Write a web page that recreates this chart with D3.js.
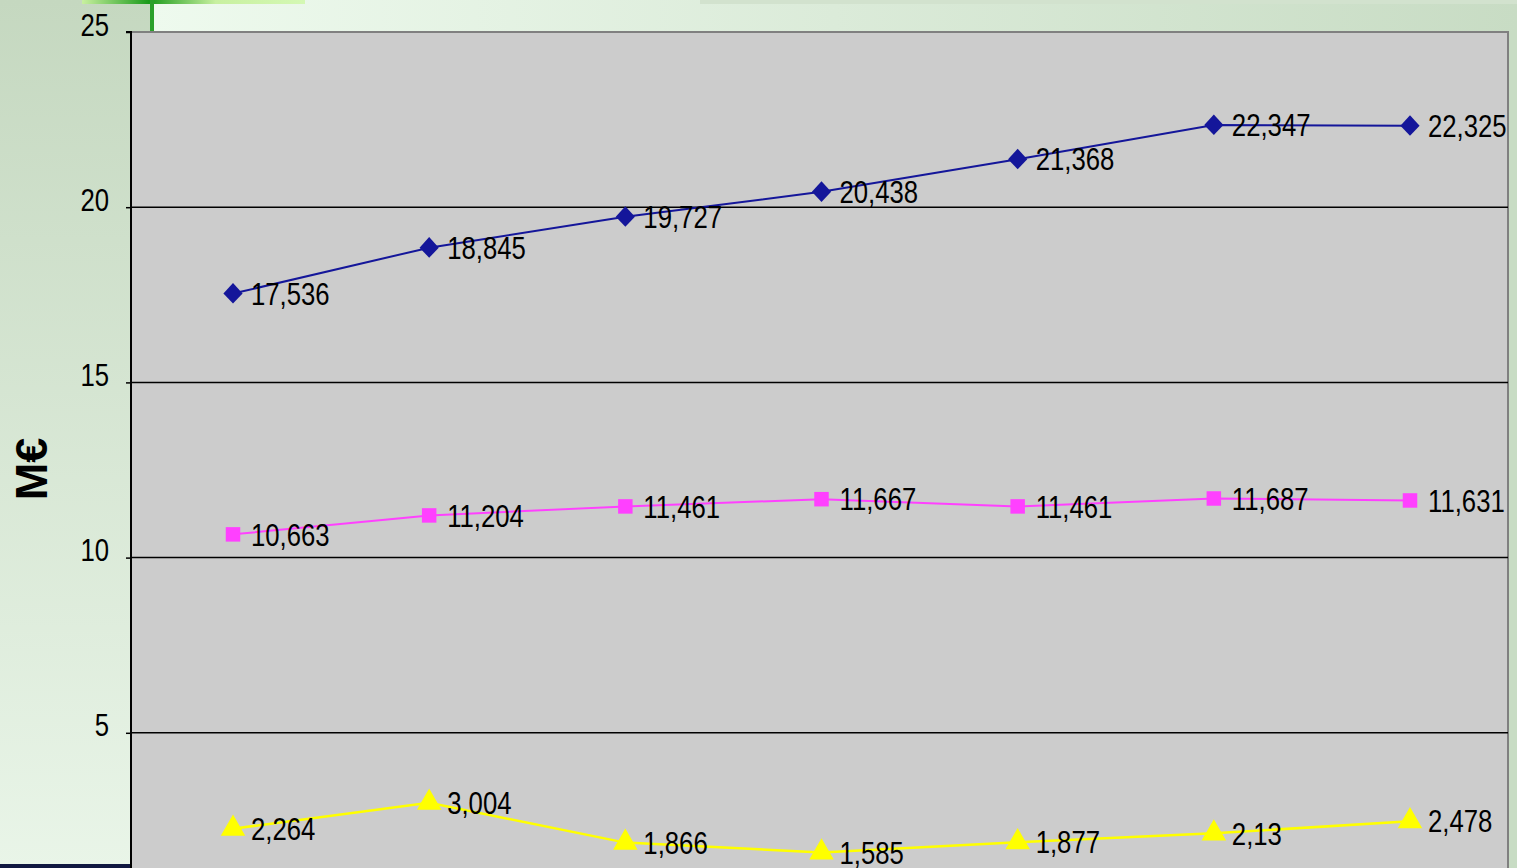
<!DOCTYPE html>
<meta charset="utf-8">
<title>M€</title>
<style>
body { margin: 0; overflow: hidden; }
svg { display: block; }
.lbl { font-family: "Liberation Sans", Arial, sans-serif; font-size: 31px; fill: #000; }
</style>
<svg></svg>
<script src="https://cdnjs.cloudflare.com/ajax/libs/d3/7.8.5/d3.min.js"></script>
<script>
// data
var categories = [1, 2, 3, 4, 5, 6, 7];
var blueVals   = [17.536, 18.845, 19.727, 20.438, 21.368, 22.347, 22.325];
var blueLbls   = ["17,536", "18,845", "19,727", "20,438", "21,368", "22,347", "22,325"];
var pinkVals   = [10.663, 11.204, 11.461, 11.667, 11.461, 11.687, 11.631];
var pinkLbls   = ["10,663", "11,204", "11,461", "11,667", "11,461", "11,687", "11,631"];
var yellowVals = [2.264, 3.004, 1.866, 1.585, 1.877, 2.13, 2.478];
var yellowLbls = ["2,264", "3,004", "1,866", "1,585", "1,877", "2,13", "2,478"];
var yTicks = [5, 10, 15, 20, 25];

var width = 1517, height = 868;
var plotL = 131, plotR = 1508, plotT = 32;
var narrow = 0.83; // squeeze to look like Arial Narrow

var svg = d3.select("svg").attr("width", width).attr("height", height);
var defs = svg.append("defs");

// background panels
var g1 = defs.append("linearGradient").attr("id", "leftGrad")
    .attr("x1", 0).attr("y1", 0).attr("x2", 0).attr("y2", 1);
g1.append("stop").attr("offset", "0%").attr("stop-color", "#c5d8c0");
g1.append("stop").attr("offset", "100%").attr("stop-color", "#e9f5e8");
var g2 = defs.append("linearGradient").attr("id", "topGrad")
    .attr("x1", 0).attr("y1", 0).attr("x2", 1).attr("y2", 0);
g2.append("stop").attr("offset", "0%").attr("stop-color", "#eefaee");
g2.append("stop").attr("offset", "100%").attr("stop-color", "#c8dcc4");
var g3 = defs.append("linearGradient").attr("id", "barGrad")
    .attr("x1", 0).attr("y1", 0).attr("x2", 1).attr("y2", 0);
g3.append("stop").attr("offset", "0%").attr("stop-color", "#c8f0a0");
g3.append("stop").attr("offset", "30%").attr("stop-color", "#1a9a1a");
g3.append("stop").attr("offset", "60%").attr("stop-color", "#c8f0a0");
g3.append("stop").attr("offset", "100%").attr("stop-color", "#d4f8b4");

svg.append("rect").attr("width", width).attr("height", height).style("fill", "#c8dcc4");
svg.append("rect").attr("x", 152).attr("y", 0).attr("width", width - 152).attr("height", plotT)
    .style("fill", "url(#topGrad)");
svg.append("rect").attr("x", 0).attr("y", 0).attr("width", 152).attr("height", height)
    .style("fill", "url(#leftGrad)");
svg.append("rect").attr("x", 700).attr("y", 0).attr("width", width - 700).attr("height", 4)
    .style("fill", "#d2e2ce");
svg.append("rect").attr("x", 82).attr("y", 0).attr("width", 223).attr("height", 4)
    .style("fill", "url(#barGrad)");
svg.append("rect").attr("x", 150).attr("y", 0).attr("width", 4).attr("height", plotT)
    .style("fill", "#2aa02a");
svg.append("rect").attr("x", 0).attr("y", 864).attr("width", 137).attr("height", 4)
    .style("fill", "#101840");

// scales
var x = d3.scalePoint().domain(categories).range([233, 1410]);
var y = d3.scaleLinear().domain([0, 25]).range([908, plotT]);

// plot area
svg.append("rect").attr("x", plotL).attr("y", plotT).attr("width", plotR - plotL).attr("height", height - plotT + 5)
    .style("fill", "#cccccc").style("stroke", "#808080").style("stroke-width", 2);

// gridlines
svg.append("g").selectAll("line").data(yTicks.slice(0, 4)).enter().append("line")
    .attr("x1", plotL).attr("x2", plotR)
    .attr("y1", function(d) { return y(d); }).attr("y2", function(d) { return y(d); })
    .style("stroke", "#000").style("stroke-width", 1.5);

// y axis
var yAxis = d3.axisLeft(y).tickValues(yTicks).tickSize(5).tickPadding(0);
var ax = svg.append("g").attr("transform", "translate(" + plotL + ",0)").call(yAxis);
ax.select(".domain").attr("d", "M-5," + y(25) + "H0V" + (height + 2)).style("stroke", "#000").style("stroke-width", 2);
ax.selectAll(".tick line").style("stroke", "#000").style("stroke-width", 1.5);
ax.selectAll(".tick text").attr("class", "lbl").attr("x", null).attr("dy", "0.1em")
    .attr("transform", "translate(-22,0) scale(" + narrow + ",1)")
    .style("font-size", "31px");

svg.append("text")
    .attr("transform", "translate(47,469) rotate(-90)")
    .attr("text-anchor", "middle")
    .style("font-family", "\"Liberation Sans\", Arial, sans-serif")
    .style("font-weight", "bold").style("font-size", "45px")
    .text("M€");

var line = d3.line().x(function(d, i) { return x(categories[i]); }).y(function(d) { return y(d); });

var diamond = { draw: function(ctx, size) {
  var h = Math.sqrt(size) * 0.62;
  ctx.moveTo(0, -h * 1.1); ctx.lineTo(h, 0); ctx.lineTo(0, h * 1.05); ctx.lineTo(-h, 0); ctx.closePath();
} };

function series(vals, lbls, color, sw, symbol, size) {
  var g = svg.append("g");
  g.append("path").datum(vals).attr("d", line)
      .style("fill", "none").style("stroke", color).style("stroke-width", sw);
  g.selectAll(".m").data(vals).enter().append("path")
      .attr("d", d3.symbol().type(symbol).size(size))
      .attr("transform", function(d, i) { return "translate(" + x(categories[i]) + "," + y(d) + ")"; })
      .style("fill", color);
  g.selectAll(".t").data(vals).enter().append("text")
      .attr("class", "lbl")
      .attr("transform", function(d, i) {
        return "translate(" + (x(categories[i]) + 18) + "," + y(d) + ") scale(" + narrow + ",1)";
      })
      .attr("dy", "0.36em")
      .text(function(d, i) { return lbls[i]; });
}

series(blueVals, blueLbls, "#14169a", 2, diamond, 240);
series(pinkVals, pinkLbls, "#ff40ff", 2, d3.symbolSquare, 210);
series(yellowVals, yellowLbls, "#ffff00", 2.5, d3.symbolTriangle, 260);
</script>
